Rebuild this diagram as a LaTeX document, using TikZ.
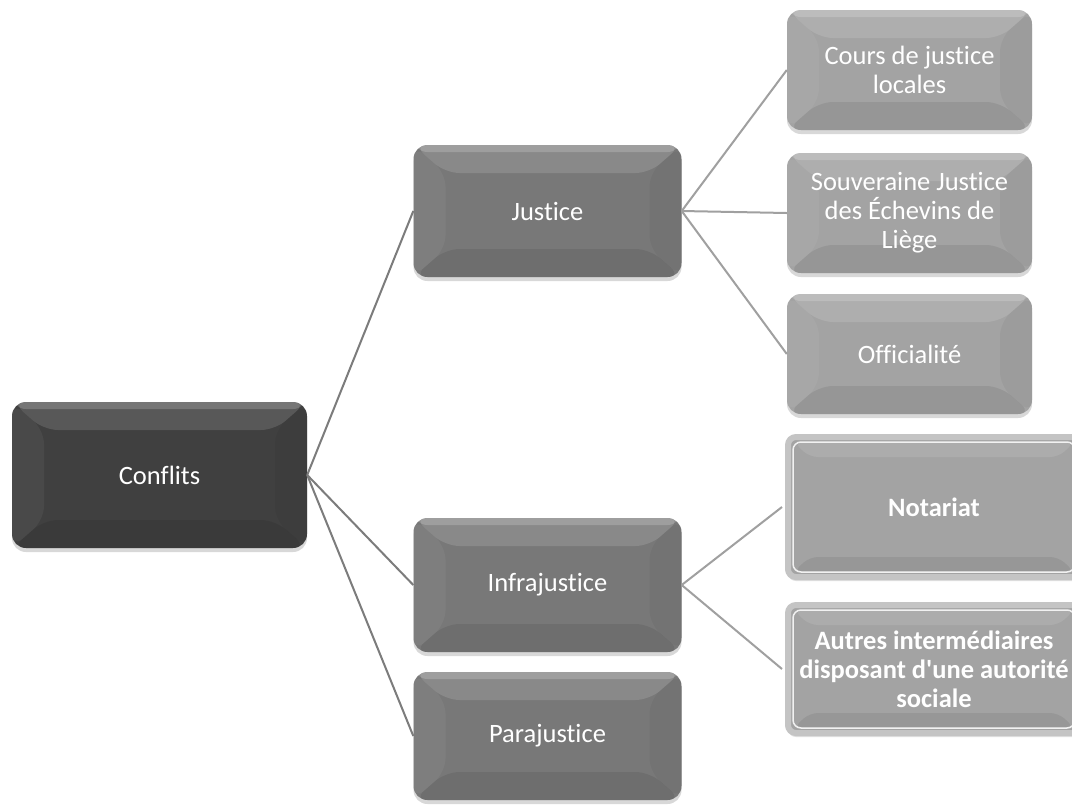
\documentclass[tikz,border=0pt]{standalone}
\usepackage{fontspec}
\setmainfont{Carlito}[Ligatures={TeXOff,NoCommon}]
\usetikzlibrary{shadows,calc}
\definecolor{cdark}{HTML}{404040}
\definecolor{cmid}{HTML}{787878}
\definecolor{clight}{HTML}{A3A3A3}
\definecolor{cframe}{HTML}{C4C4C4}
\definecolor{lnA}{HTML}{7C7C7C}
\definecolor{lnB}{HTML}{A0A0A0}
\tikzset{
  bevel/.style={path picture={
    \coordinate (pnw) at (path picture bounding box.north west);
    \coordinate (pne) at (path picture bounding box.north east);
    \coordinate (psw) at (path picture bounding box.south west);
    \coordinate (pse) at (path picture bounding box.south east);
    \fill[white,opacity=0.13] (pnw) -- (pne) -- ([xshift=-32pt,yshift=-28pt]pne) -- ([xshift=32pt,yshift=-28pt]pnw) -- cycle;
    \fill[white,opacity=0.18] (pnw) rectangle ([yshift=-7pt]pne);
    \fill[black,opacity=0.08] (psw) -- (pse) -- ([xshift=-32pt,yshift=28pt]pse) -- ([xshift=32pt,yshift=28pt]psw) -- cycle;
    \fill[white,opacity=0.05] (pnw) -- ([xshift=32pt,yshift=-28pt]pnw) -- ([xshift=32pt,yshift=28pt]psw) -- (psw) -- cycle;
    \fill[black,opacity=0.04] (pne) -- ([xshift=-32pt,yshift=-28pt]pne) -- ([xshift=-32pt,yshift=28pt]pse) -- (pse) -- cycle;
  }},
  box/.style={rounded corners=14pt, inner sep=0pt, text=white, align=center,
    font=\fontsize{26.5}{29}\selectfont,
    drop shadow={shadow xshift=0pt, shadow yshift=-4pt, opacity=0.25, fill=black!60},
    bevel},
  lvlA/.style={box, fill=cdark, minimum width=295pt, minimum height=146pt},
  lvlB/.style={box, fill=cmid, minimum width=268pt, minimum height=132pt},
  lvlC/.style={box, fill=clight, minimum width=245pt, minimum height=120pt},
  framed/.style={rounded corners=8pt, inner sep=0pt, text=white, align=center,
    font=\fontsize{26.5}{29}\selectfont\bfseries,
    fill=clight, draw=cframe, line width=6pt,
    minimum width=292pt,
    drop shadow={shadow xshift=0pt, shadow yshift=-4pt, opacity=0.2, fill=black!60},
    path picture={
      \coordinate (pnw) at (path picture bounding box.north west);
      \coordinate (pse) at (path picture bounding box.south east);
      \coordinate (pne) at (path picture bounding box.north east);
      \coordinate (psw) at (path picture bounding box.south west);
      \fill[white,opacity=0.10] ([xshift=6pt,yshift=-6pt]pnw) -- ([xshift=-6pt,yshift=-6pt]pne) -- ([xshift=-22pt,yshift=-20pt]pne) -- ([xshift=22pt,yshift=-20pt]pnw) -- cycle;
      \fill[black,opacity=0.07] ([xshift=6pt,yshift=6pt]psw) -- ([xshift=-6pt,yshift=6pt]pse) -- ([xshift=-22pt,yshift=20pt]pse) -- ([xshift=22pt,yshift=20pt]psw) -- cycle;
      \draw[white,line width=1.5pt,opacity=0.85] ([xshift=5pt,yshift=-5pt]pnw) rectangle ([xshift=-5pt,yshift=5pt]pse);
    }},
  connA/.style={draw=lnA, line width=2pt},
  connB/.style={draw=lnB, line width=2pt}
}
\begin{document}
\begin{tikzpicture}[x=1pt,y=-1pt]
\useasboundingbox[fill=white] (0,0) rectangle (1072,807);
\node[lvlA] (conf) at (159.5,475) {Conflits};
\node[lvlB] (just) at (547.5,211) {Justice};
\node[lvlB, minimum height=134pt] (infra) at (547.5,585) {Infrajustice};
\node[lvlB, minimum height=128pt] (para) at (547.5,736) {Parajustice};
\node[lvlC] (cours) at (909.5,70) {Cours de justice\\locales};
\node[lvlC] (souv) at (909.5,213) {Souveraine Justice\\des Échevins de\\Liège};
\node[lvlC] (offi) at (909.5,354) {Officialité};
\node[framed, minimum height=140pt] (nota) at (934,507) {Notariat};
\node[framed, minimum height=128pt] (autr) at (934,669) {Autres intermédiaires\\disposant d'une autorité\\sociale};
\draw[connA] (conf.east) -- (just.west);
\draw[connA] (conf.east) -- (infra.west);
\draw[connA] (conf.east) -- (para.west);
\draw[connB] (just.east) -- (cours.west);
\draw[connB] (just.east) -- (souv.west);
\draw[connB] (just.east) -- (offi.west);
\draw[connB] (infra.east) -- ([xshift=-3pt]nota.west);
\draw[connB] (infra.east) -- ([xshift=-3pt]autr.west);
\end{tikzpicture}
\end{document}
